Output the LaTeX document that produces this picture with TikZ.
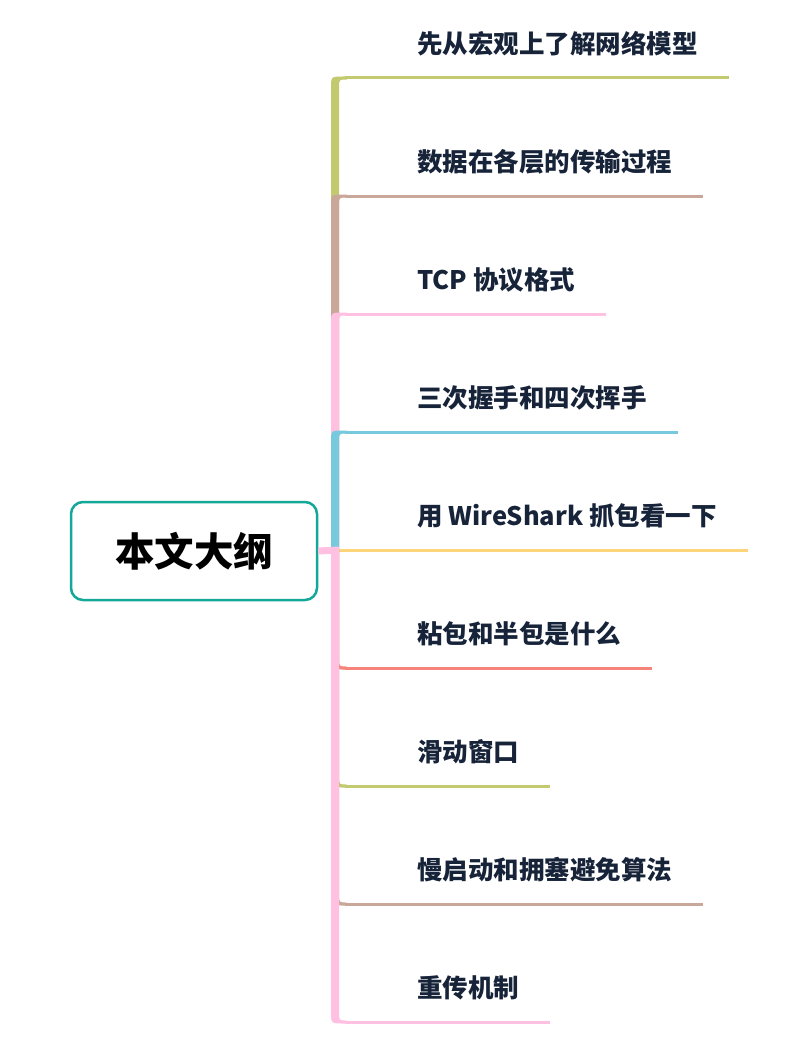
\documentclass[tikz,border=0pt]{standalone}
\usepackage{fontspec}
\newfontfamily\cjk{Noto Sans CJK SC}
\usetikzlibrary{calc}
\definecolor{olive}{HTML}{C3C96E}
\definecolor{taupe}{HTML}{C9A799}
\definecolor{rose}{HTML}{FFC0E1}
\definecolor{sky}{HTML}{77CADD}
\definecolor{sand}{HTML}{FCD47A}
\definecolor{salmon}{HTML}{F6847A}
\definecolor{rootteal}{HTML}{14A899}
\definecolor{navy}{HTML}{162339}
\tikzset{
  rootbox/.style={draw=rootteal, line width=2.5pt, rounded corners=12pt, fill=white,
    minimum width=246pt, minimum height=98pt, text=black,
    font=\cjk\bfseries\fontsize{39.5}{42}\selectfont},
  topic/.style={anchor=south west, inner xsep=0pt, inner ysep=20pt, text=navy,
    text height=21pt, text depth=4pt, font=\cjk\bfseries\fontsize{25.5}{28}\selectfont},
  underline/.style={line width=3pt}
}
% vertical stem with its corner, then the thin line under the topic
\newcommand\stemup[2]{%
  \coordinate (k) at (jn |- #1.south);
  \fill[#2] ($(jn)+(-4,0)$) -- ($(k)+(-4,10.5)$) .. controls ($(k)+(-4,-1.5)$) .. ($(k)+(8,-1.5)$)
    -- ($(k)+(12,-1.5)$) -- ($(k)+(12,1.5)$) .. controls ($(k)+(4,1.5)$) .. ($(k)+(4,9.5)$)
    -- ($(jn)+(4,0)$) -- cycle;
  \draw[#2, underline] ($(k)+(10,0)$) -- ($(#1.south east)+(31,0)$);}
\newcommand\stemdown[2]{%
  \coordinate (k) at (jn |- #1.south);
  \fill[#2] ($(jn)+(-4,0)$) -- ($(k)+(-4,-10.5)$) .. controls ($(k)+(-4,1.5)$) .. ($(k)+(8,1.5)$)
    -- ($(k)+(12,1.5)$) -- ($(k)+(12,-1.5)$) .. controls ($(k)+(4,-1.5)$) .. ($(k)+(4,-9.5)$)
    -- ($(jn)+(4,0)$) -- cycle;
  \draw[#2, underline] ($(k)+(10,0)$) -- ($(#1.south east)+(31,0)$);}
\begin{document}
\begin{tikzpicture}[x=1pt, y=-1pt]
        \useasboundingbox (0,0) rectangle (785,1051);
        \node (root) [rootbox] at (194,551) {本文大纲};
        \coordinate (jn) at (335,550);
        \node (b1) [topic] at (417,78) {先从宏观上了解网络模型};
        \node (b2) [topic] at (417,196) {数据在各层的传输过程};
        \node (b3) [topic] at (417,314) {TCP 协议格式};
        \node (b4) [topic] at (417,432) {三次握手和四次挥手};
        \node (b5) [topic] at (417,550) {用 WireShark 抓包看一下};
        \node (b6) [topic] at (417,668) {粘包和半包是什么};
        \node (b7) [topic] at (417,786) {滑动窗口};
        \node (b8) [topic] at (417,904) {慢启动和拥塞避免算法};
        \node (b9) [topic] at (417,1022) {重传机制};
        \stemup{b1}{olive}
        \stemup{b2}{taupe}
        \stemup{b3}{rose}
        \stemup{b4}{sky}
        \draw[sand, underline] ($(jn |- b5.south)+(4,0)$) -- ($(b5.south east)+(31,0)$);
        \stemdown{b6}{salmon}
        \stemdown{b7}{olive}
        \stemdown{b8}{taupe}
        \stemdown{b9}{rose}
        \draw[rose, line width=7pt] (root.east) -- ($(jn)+(4,0)$);
\end{tikzpicture}
\end{document}
